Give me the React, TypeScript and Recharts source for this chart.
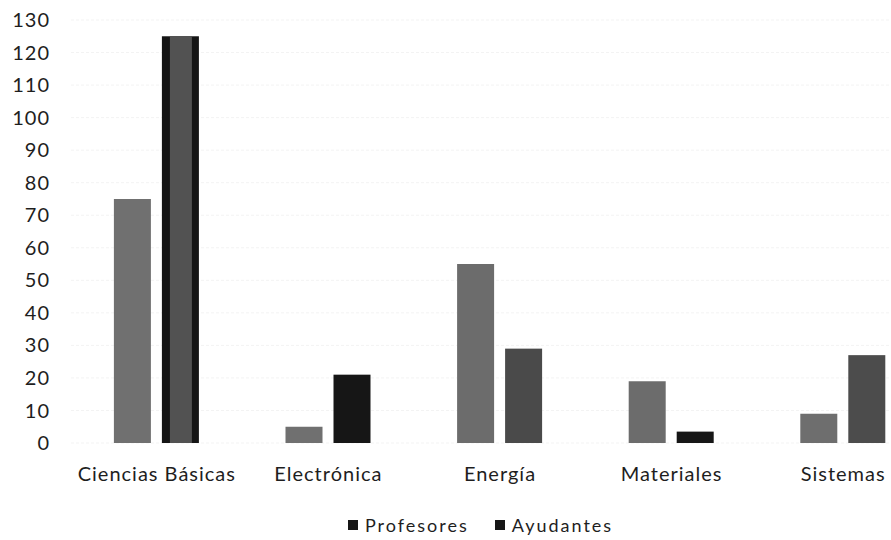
import React from 'react';
import { Bar, BarChart, CartesianGrid, Cell, Legend, XAxis, YAxis } from 'recharts';

const categories = ['Ciencias Básicas', 'Electrónica', 'Energía', 'Materiales', 'Sistemas'];
const profesores = [75, 5, 55, 19, 9];
const ayudantes = [125, 21, 29, 3.5, 27];
const yTicks = [0, 10, 20, 30, 40, 50, 60, 70, 80, 90, 100, 110, 120, 130];

// scan look: some bars came out nearly black
const profFills = ['#707070', '#707070', '#6c6c6c', '#6c6c6c', '#6e6e6e'];
const ayudFills = ['#525252', '#161616', '#4a4a4a', '#161616', '#4c4c4c'];

const data = categories.map((name, i) => ({ name, profesores: profesores[i], ayudantes: ayudantes[i] }));

const font = 'Lato, "Open Sans", sans-serif';

const AyudShape = (props: any) => {
  const { x, y, width, height, index, fill } = props;
  if (index === 0) {
    return (
      <g>
        <rect x={x} y={y} width={width} height={height} fill="#151515" />
        <rect x={x + 8} y={y} width={width - 15} height={height} fill={fill} />
      </g>
    );
  }
  return <rect x={x} y={y} width={width} height={height} fill={fill} />;
};

const LegendContent = () => (
  <div style={{ display: 'flex', justifyContent: 'center', gap: 26, fontFamily: font, fontSize: 18, lineHeight: '22px', color: '#1e1e1e', letterSpacing: 2 }}>
    {['Profesores', 'Ayudantes'].map(label => (
      <span key={label} style={{ display: 'flex', alignItems: 'center' }}>
        <span style={{ display: 'inline-block', width: 10, height: 10, background: '#161616', marginRight: 7 }} />
        {label}
      </span>
    ))}
  </div>
);

export default function App() {
  return (
    <div style={{ position: 'absolute', left: 0, top: 0, width: 891, height: 540, overflow: 'hidden', background: '#fff' }}>
      <BarChart
        width={940}
        height={540}
        data={data}
        margin={{ top: 20, right: 11, bottom: 35, left: 0 }}
        barCategoryGap="25%"
        barGap={11}
      >
        <CartesianGrid vertical={false} stroke="#f3f3f3" strokeDasharray="3 2" />
        <XAxis
          dataKey="name"
          axisLine={false}
          tickLine={false}
          tickSize={0}
          tickMargin={24}
          height={40}
          tick={{ fontFamily: font, fontSize: 20, fill: '#1e1e1e', letterSpacing: 1 }}
          interval={0}
        />
        <YAxis
          domain={[0, 130]}
          ticks={yTicks}
          axisLine={false}
          tickLine={false}
          tickSize={0}
          tickMargin={21}
          width={71}
          tick={{ fontFamily: font, fontSize: 20, fill: '#1e1e1e', letterSpacing: 1 }}
          interval={0}
        />
        <Legend content={<LegendContent />} wrapperStyle={{ left: 35, width: 891, top: 514 }} />
        <Bar dataKey="profesores" name="Profesores" fill="#707070" isAnimationActive={false}>
          {data.map((_, i) => <Cell key={i} fill={profFills[i]} />)}
        </Bar>
        <Bar dataKey="ayudantes" name="Ayudantes" fill="#4a4a4a" shape={AyudShape} isAnimationActive={false}>
          {data.map((_, i) => <Cell key={i} fill={ayudFills[i]} />)}
        </Bar>
      </BarChart>
    </div>
  );
}
